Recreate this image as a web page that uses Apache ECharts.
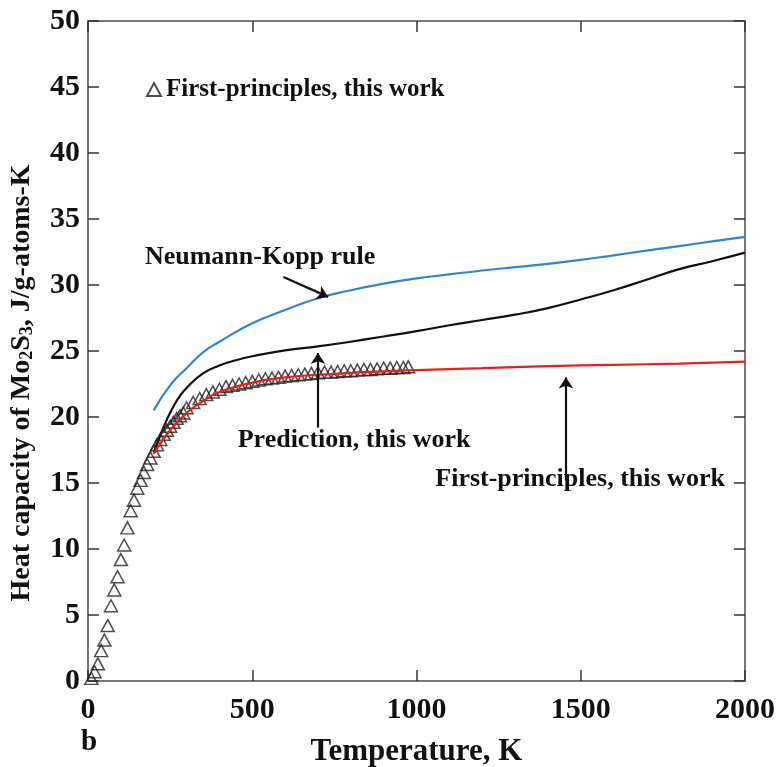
<!DOCTYPE html>
<html><head><meta charset="utf-8">
<script src="https://cdn.jsdelivr.net/npm/echarts@6/dist/echarts.min.js"></script>
<style>html,body{margin:0;padding:0;background:#fff}#c{width:777px;height:767px}</style>
</head><body><div id="c"></div>
<script>
// First-principles (triangles)
const T_fp = [10,20,30,40,50,60,70,80,90,100,110,120,130,140,150,160,170,180,190,200,
  210,220,230,240,250,260,270,280,290,300,320,340,360,380,400,420,440,460,480,500,
  520,540,560,580,600,620,640,660,680,700,720,740,760,780,800,820,840,860,880,900,920,940,960,975];
const Cp_fp = [0.2,0.7,1.3,2.3,3.1,4.2,5.7,6.9,7.9,9.2,10.3,11.6,12.9,13.7,14.6,15.2,15.8,16.4,16.9,17.4,
  17.9,18.3,18.7,19.0,19.3,19.6,19.9,20.1,20.3,20.7,21.1,21.4,21.7,21.9,22.1,22.3,22.4,22.5,22.6,22.7,
  22.8,22.9,22.95,23.0,23.1,23.15,23.2,23.25,23.3,23.35,23.4,23.4,23.45,23.5,23.5,23.55,23.6,23.6,23.65,23.7,23.7,23.75,23.75,23.8];
// First-principles line (red)
const T_red = [200,250,300,350,400,500,600,700,800,900,1000,1200,1400,1600,1800,2000];
const Cp_red = [17.2,19.0,20.3,21.2,21.9,22.6,23.0,23.2,23.35,23.45,23.55,23.7,23.85,23.95,24.05,24.2];
// Prediction (black)
const T_pred = [200,220,240,260,280,300,350,400,450,500,600,700,800,900,1000,1100,1200,1300,1400,1500,1600,1700,1800,1900,2000];
const Cp_pred = [17.3,18.6,19.8,20.8,21.6,22.2,23.3,23.9,24.3,24.6,25.05,25.35,25.7,26.1,26.5,26.95,27.35,27.75,28.25,28.9,29.6,30.4,31.2,31.8,32.45];
// Neumann-Kopp rule (blue)
const T_nk = [200,250,300,350,400,500,600,700,800,900,1000,1100,1200,1300,1400,1500,1600,1700,1800,1900,2000];
const Cp_nk = [20.5,22.4,23.7,24.9,25.7,27.1,28.1,29.0,29.6,30.1,30.5,30.8,31.1,31.35,31.6,31.9,32.25,32.6,32.95,33.3,33.65];
// Annotation arrows [from, to] in data units
const arrows = [
  [[595,30.6],[731,29.1]],
  [[700,19.2],[700,24.85]],
  [[1455,15.2],[1455,23.0]]
];
const xTicks = [0,500,1000,1500,2000];
const yTicks = [0,5,10,15,20,25,30,35,40,45,50];

const zip = (a,b)=>a.map((v,i)=>[v,b[i]]);
const FONT = '"Liberation Serif","Times New Roman",serif';
const chart = echarts.init(document.getElementById('c'));
const common = () => ({
  axisLine:{show:true,onZero:false,lineStyle:{color:'#777', width:2}},
  axisTick:{show:true,inside:true,length:11,lineStyle:{color:'#333',width:1.5}},
  splitLine:{show:false}
});
const tickFont = {fontFamily:FONT,fontWeight:'bold',fontSize:30,color:'#111'};
chart.setOption({
  animation:false,
  backgroundColor:'#fff',
  grid:{left:88,right:32,top:21,bottom:86,containLabel:false,outerBoundsMode:'none'},
  legend:{
    data:[{name:'First-principles, this work'}],
    left:141, top:72, itemWidth:14, itemHeight:13, itemGap:5,
    textStyle:{fontFamily:FONT,fontWeight:'bold',fontSize:25,color:'#111'}
  },
  xAxis:[
    Object.assign(common(),{type:'value',min:0,max:2000,interval:500,position:'bottom',
      name:'Temperature, K',nameLocation:'middle',nameGap:55,
      nameTextStyle:{fontFamily:FONT,fontWeight:'bold',fontSize:31,color:'#111'},
      axisLabel:Object.assign({margin:14,formatter:v=>String(v)},tickFont)}),
    Object.assign(common(),{type:'value',min:0,max:2000,interval:500,position:'top',axisLabel:{show:false}})
  ],
  yAxis:[
    Object.assign(common(),{type:'value',min:0,max:50,interval:5,position:'left',
      axisLabel:Object.assign({margin:8,formatter:v=>String(v)},tickFont)}),
    Object.assign(common(),{type:'value',min:0,max:50,interval:5,position:'right',axisLabel:{show:false}})
  ],
  series:[
    {name:'Neumann-Kopp rule',type:'line',data:zip(T_nk,Cp_nk),smooth:true,showSymbol:false,
      lineStyle:{color:'#2f86cc',width:2.2},z:3},
    {name:'Prediction, this work',type:'line',data:zip(T_pred,Cp_pred),smooth:true,showSymbol:false,
      lineStyle:{color:'#111',width:2.2},z:3},
    {name:'First-principles, this work',type:'scatter',data:zip(T_fp,Cp_fp),symbol:'triangle',symbolSize:[13,12],
      itemStyle:{color:'rgba(255,255,255,0)',borderColor:'#222',borderWidth:1.5},z:4},
    {name:'First-principles line',type:'line',data:zip(T_red,Cp_red),smooth:true,showSymbol:false,
      lineStyle:{color:'#e8201a',width:2.2},z:5},
    {name:'arrows',type:'lines',coordinateSystem:'cartesian2d',
      data:arrows.map(a=>({coords:a})),symbol:['none','arrow'],symbolSize:11,
      lineStyle:{color:'#111',width:2.2,opacity:1},z:6}
  ]
});
function px(t,c){return chart.convertToPixel({xAxisIndex:0,yAxisIndex:0},[t,c]);}
const labels = [
  {text:'Neumann-Kopp rule', at:[524,32.1]},
  {text:'Prediction, this work', at:[810,18.26]},
  {text:'First-principles, this work', at:[1498,15.3]}
];
const g = labels.map(l=>{const p=px(l.at[0],l.at[1]);return {type:'text',x:p[0],y:p[1],
  style:{text:l.text,fontFamily:FONT,fontWeight:'bold',fontSize:26,fill:'#111',align:'center',verticalAlign:'middle'},z:10};});
g.push({type:'text',x:22,y:383,rotation:Math.PI/2,
  style:{text:'{a|Heat capacity of Mo}{s|2}{a|S}{s|3}{a|, J/g-atoms-K}',align:'center',verticalAlign:'middle',
    rich:{a:{fontFamily:FONT,fontWeight:'bold',fontSize:28,fill:'#111',color:'#111'},
          s:{fontFamily:FONT,fontWeight:'bold',fontSize:18,fill:'#111',color:'#111',verticalAlign:'bottom',padding:[10,0,0,0]}}},z:10});
g.push({type:'text',x:89,y:743,style:{text:'b',fontFamily:FONT,fontWeight:'bold',fontSize:29,fill:'#111',align:'center',verticalAlign:'middle'},z:10});
chart.setOption({graphic:g});
</script></body></html>
